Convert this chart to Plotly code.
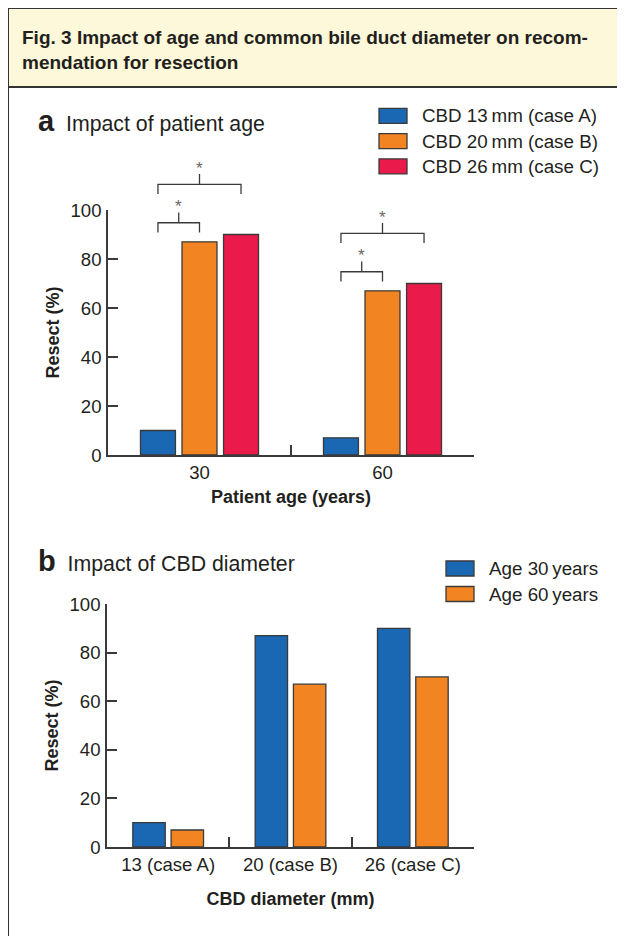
import plotly.graph_objects as go

# ---------------- data ----------------
age_groups = ["30", "60"]
cbd_groups = ["13 (case A)", "20 (case B)", "26 (case C)"]
cbd_series_names = ["CBD 13\u2009mm (case A)", "CBD 20\u2009mm (case B)", "CBD 26\u2009mm (case C)"]
age_series_names = ["Age 30\u2009years", "Age 60\u2009years"]
resect_case_a = [10, 7]    # % resect at age 30, 60
resect_case_b = [87, 67]
resect_case_c = [90, 70]
significance_pairs = [(0, 1), (0, 2)]   # case A vs B, case A vs C (both ages)

# ---------------- style ----------------
OFF = 8                      # page body margin in the browser
W, H = 625 - OFF, 936 - OFF  # figure size so it fills the window exactly
BLUE, ORANGE, RED = "#1a67b3", "#f28522", "#ea1a4b"
cbd_colors = [BLUE, ORANGE, RED]
age_colors = [BLUE, ORANGE]
INK = "#231f20"
AX = "#3a3a3a"
FONT = "Liberation Sans, Arial, sans-serif"

def px(x):
    return (x - OFF) / W

def py(y):
    return 1 - (y - OFF) / H

series_a = [resect_case_a, resect_case_b, resect_case_c]
series_b = [[s[j] for s in series_a] for j in range(len(age_groups))]

# bar geometry (in category units)
A_SLOT, A_BAR = 0.227, 0.191
B_SLOT, B_BAR = 0.313, 0.265

def bar_offset(k, n, slot, bar):
    return -slot * n / 2 + slot * k + (slot - bar) / 2

def bar_center(k, n, slot):
    return -slot * n / 2 + slot * (k + 0.5)

fig = go.Figure()
for k, (name, vals) in enumerate(zip(cbd_series_names, series_a)):
    fig.add_trace(go.Bar(
        x=age_groups, y=vals, name=name, xaxis="x", yaxis="y",
        width=A_BAR, offset=bar_offset(k, 3, A_SLOT, A_BAR),
        marker=dict(color=cbd_colors[k], line=dict(color=AX, width=1.3)),
        showlegend=False))
for j, (name, vals) in enumerate(zip(age_series_names, series_b)):
    fig.add_trace(go.Bar(
        x=cbd_groups, y=vals, name=name, xaxis="x2", yaxis="y2",
        width=B_BAR, offset=bar_offset(j, 2, B_SLOT, B_BAR),
        marker=dict(color=age_colors[j], line=dict(color=AX, width=1.3)),
        showlegend=False))

shapes = []
annotations = []

# ---- frame / header ----
shapes.append(dict(type="rect", xref="paper", yref="paper",
                   x0=px(8), x1=px(700), y0=py(87), y1=py(8),
                   fillcolor="#fdf8d9", line=dict(color="#333333", width=2), layer="below"))
shapes.append(dict(type="line", xref="paper", yref="paper",
                   x0=px(8), x1=px(8), y0=py(87), y1=py(1000),
                   line=dict(color="#333333", width=2)))
annotations.append(dict(xref="paper", yref="paper", x=px(20), y=py(25),
                        xanchor="left", yanchor="top", align="left", showarrow=False,
                        text="<b>Fig. 3 Impact of age and common bile duct diameter on recom-<br>mendation for resection</b>",
                        font=dict(family=FONT, size=19, color=INK)))

# ---- panel titles ----
def panel_title(letter, text, x, y):
    annotations.append(dict(xref="paper", yref="paper", x=px(x), y=py(y),
                            xanchor="left", yanchor="bottom", showarrow=False,
                            text=f"<span style='font-size:29px;font-weight:bold'>{letter}</span>\u00a0\u00a0{text}",
                            font=dict(family=FONT, size=21.3, color=INK)))

panel_title("a", "Impact of patient age", 36, 139)
panel_title("b", "Impact of CBD diameter", 36, 579)

# ---- legends ----
def legend(names, colors, x_sw, x_txt, y_first, step):
    for i, (nm, col) in enumerate(zip(names, colors)):
        c = y_first + i * step
        shapes.append(dict(type="rect", xref="paper", yref="paper",
                           x0=px(x_sw), x1=px(x_sw + 28), y0=py(c + 7.5), y1=py(c - 7.5),
                           fillcolor=col, line=dict(color=AX, width=1.3)))
        annotations.append(dict(xref="paper", yref="paper", x=px(x_txt), y=py(c),
                                xanchor="left", yanchor="middle", showarrow=False,
                                text=nm, font=dict(family=FONT, size=18.8, color=INK)))

legend(cbd_series_names, cbd_colors, 379, 420, 115.8, 25.3)
legend(age_series_names, age_colors, 446, 487, 568.5, 25.5)

# ---- significance brackets (panel a) ----
BR_COLOR = "#3a3a3a"
LEG, STEM = 4.0, 4.2
for g in range(len(age_groups)):
    base = None
    for (a, b) in significance_pairs:
        xa = g + bar_center(a, 3, A_SLOT)
        xb = g + bar_center(b, 3, A_SLOT)
        top_bar = max(series_a[a][g], series_a[b][g]) if base is None else base
        foot = top_bar + (3.8 if base is None else 7.5)
        bar_y = foot + LEG
        stem_y = bar_y + STEM
        base = stem_y
        pts = [(xa, foot), (xa, bar_y), (xb, bar_y), (xb, foot)]
        path = "M " + " L ".join(f"{x},{y/100}" for x, y in pts)
        shapes.append(dict(type="path", xref="x", yref="y domain", path=path,
                           line=dict(color=BR_COLOR, width=1.3)))
        xm = (xa + xb) / 2
        shapes.append(dict(type="line", xref="x", yref="y domain",
                           x0=xm, x1=xm, y0=bar_y / 100, y1=stem_y / 100,
                           line=dict(color=BR_COLOR, width=1.3)))
        annotations.append(dict(xref="x", yref="y domain", x=xm, y=stem_y / 100,
                                xanchor="center", yanchor="bottom", showarrow=False,
                                text="*", yshift=-6,
                                font=dict(family=FONT, size=17, color="#666666")))

axis_common = dict(showline=True, linecolor=AX, linewidth=1.5, ticks="inside",
                   ticklen=10, tickwidth=1.5, tickcolor=AX, showgrid=False,
                   zeroline=False, automargin=False,
                   tickfont=dict(family=FONT, size=18.6, color=INK))
xcat = dict(type="category", tickson="boundaries", fixedrange=True)
ycom = dict(range=[0, 100], dtick=20, tick0=0, ticklabelstandoff=1)
title_font = dict(family=FONT, size=18, color=INK, weight="bold")

fig.update_layout(
    width=W, height=H, template="none",
    margin=dict(l=0, r=0, t=0, b=0),
    paper_bgcolor="white", plot_bgcolor="white",
    barmode="overlay", showlegend=False,
    font=dict(family=FONT, color=INK),
    xaxis=dict(domain=[px(108), px(474)], anchor="y", range=[-0.5, 1.5],
               title=dict(text="Patient age (years)", font=title_font, standoff=8),
               **xcat, **axis_common),
    yaxis=dict(domain=[py(455), py(210)], anchor="x",
               title=dict(text="Resect (%)", font=title_font, standoff=6),
               **ycom, **axis_common),
    xaxis2=dict(domain=[px(107), px(474)], anchor="y2", range=[-0.5, 2.5],
                title=dict(text="CBD diameter (mm)", font=title_font, standoff=18),
                **xcat, **axis_common),
    yaxis2=dict(domain=[py(847), py(604)], anchor="x2",
                title=dict(text="Resect (%)", font=title_font, standoff=6),
                **ycom, **axis_common),
    shapes=shapes, annotations=annotations,
)

fig.write_html("out.html")
